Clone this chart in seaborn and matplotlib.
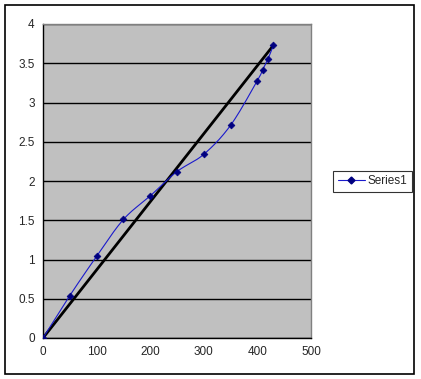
import numpy as np
import pandas as pd
import matplotlib
matplotlib.use('Agg')
import matplotlib.pyplot as plt
from matplotlib.lines import Line2D
from matplotlib.patches import Rectangle
import seaborn as sns

x_vals = [0, 50, 100, 150, 200, 250, 300, 350, 400, 410, 420, 430]
y_vals = [0, 0.54, 1.04, 1.51, 1.81, 2.12, 2.34, 2.71, 3.28, 3.42, 3.56, 3.73]
line_x = [0, 430]
line_y = [0, 3.73]


def smooth(xs, ys, n=20):
    # excel style smoothed line (catmull-rom through the points)
    xs = np.asarray(xs, float)
    ys = np.asarray(ys, float)
    px = np.concatenate([[xs[0]], xs, [xs[-1]]])
    py = np.concatenate([[ys[0]], ys, [ys[-1]]])
    ox, oy = [], []
    t = np.linspace(0, 1, n)
    for i in range(1, len(px) - 2):
        p0x, p1x, p2x, p3x = px[i-1], px[i], px[i+1], px[i+2]
        p0y, p1y, p2y, p3y = py[i-1], py[i], py[i+1], py[i+2]
        c1x = p1x + (p2x - p0x) / 6
        c1y = p1y + (p2y - p0y) / 6
        c2x = p2x - (p3x - p1x) / 6
        c2y = p2y - (p3y - p1y) / 6
        bx = (1-t)**3*p1x + 3*(1-t)**2*t*c1x + 3*(1-t)*t**2*c2x + t**3*p2x
        by = (1-t)**3*p1y + 3*(1-t)**2*t*c1y + 3*(1-t)*t**2*c2y + t**3*p2y
        ox.extend(bx)
        oy.extend(by)
    return ox, oy


sns.set_style('white')
plt.rcParams['font.family'] = ['Liberation Sans', 'DejaVu Sans']
plt.rcParams['font.size'] = 8.5

fig = plt.figure(figsize=(4.21, 3.79), dpi=100)
ax = fig.add_axes([43/421, 1-338/379, (311-43)/421, (338-24)/379])
ax.set_facecolor('#C0C0C0')

sx, sy = smooth(x_vals, y_vals)
curve = pd.DataFrame({'x': sx, 'y': sy})
pts = pd.DataFrame({'x': x_vals, 'y': y_vals})
ref = pd.DataFrame({'x': line_x, 'y': line_y})

sns.lineplot(data=ref, x='x', y='y', ax=ax, color='black', linewidth=2, sort=False, zorder=3)
sns.lineplot(data=curve, x='x', y='y', ax=ax, color='#1a1acc', linewidth=0.8, sort=False, zorder=4)
sns.scatterplot(data=pts, x='x', y='y', ax=ax, marker='D', color='#000080', s=12,
                edgecolor='#000080', linewidth=0.5, zorder=5)

ax.set_xlim(0, 500)
ax.set_ylim(0, 4)
ax.set_xticks(np.arange(0, 501, 100))
ax.set_yticks(np.arange(0, 4.01, 0.5))
ax.set_yticklabels(['0', '0.5', '1', '1.5', '2', '2.5', '3', '3.5', '4'])
ax.yaxis.grid(True, color='black', linewidth=1)
ax.set_axisbelow(True)
ax.set_xlabel('')
ax.set_ylabel('')
for s in ax.spines.values():
    s.set_color('#808080')
    s.set_linewidth(1)
ax.spines['left'].set_color('black')
ax.spines['bottom'].set_color('black')
ax.tick_params(direction='out', length=4, width=0.8, color='black', labelsize=8.5, pad=2)

h = Line2D([], [], color='#1a1acc', linewidth=0.8, marker='D', markersize=3.5,
           markerfacecolor='#000080', markeredgecolor='#000080')
leg = fig.legend([h], ['Series1'], loc='center', bbox_to_anchor=(372.5/421, 1-181.5/379),
                 frameon=True, fancybox=False, edgecolor='black', fontsize=8.5,
                 handlelength=2.3, borderpad=0.35, handletextpad=0.25, borderaxespad=0)
leg.get_frame().set_linewidth(0.8)

fig.patches.append(Rectangle((5/421, 5/379), 409/421, 369/379, transform=fig.transFigure,
                             fill=False, edgecolor='black', linewidth=1.2))

fig.savefig('out.png', dpi=100)
